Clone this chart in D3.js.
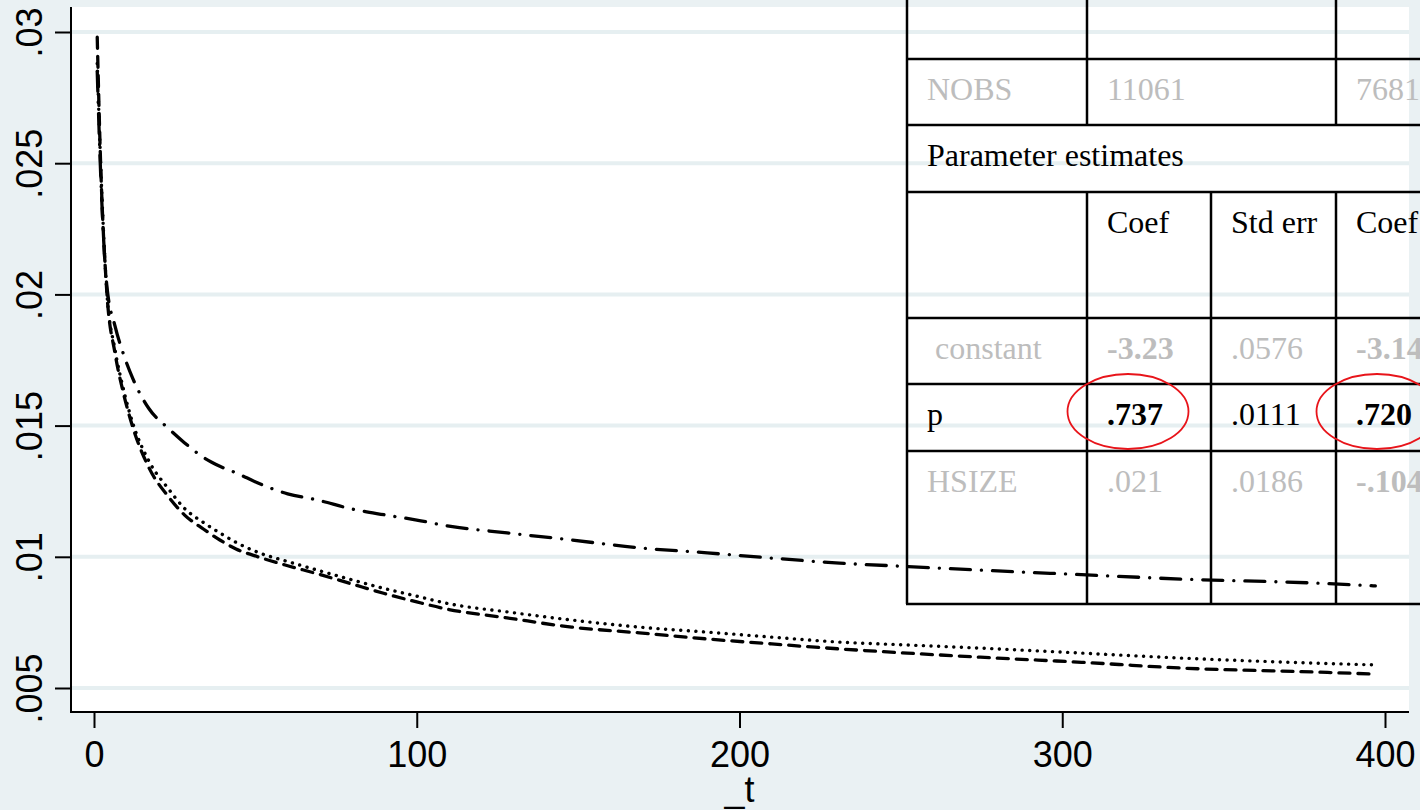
<!DOCTYPE html>
<html>
<head>
<meta charset="utf-8">
<script src="https://cdn.jsdelivr.net/npm/d3@7"></script>
<style>
  html, body { margin: 0; padding: 0; background: #eaf1f3; overflow: hidden; }
  svg { display: block; }
</style>
</head>
<body>
<svg id="chart" width="1420" height="810"></svg>
<script>
// ---------------- data ----------------
const tValues = [1, 2, 4, 6.5, 9, 12, 17, 23, 28, 34, 39, 44, 51, 60, 69, 80, 90, 100, 110, 128, 148, 169, 190, 210, 231, 252, 280, 306, 337, 378, 397];

const hazardDashed = [0.02980, 0.02520, 0.02005, 0.01777, 0.01630, 0.01495, 0.01340, 0.01230, 0.01160, 0.01105, 0.01064, 0.01030, 0.00999, 0.00966, 0.00936, 0.00896, 0.00860, 0.00828, 0.00799, 0.00767, 0.00732, 0.00710, 0.00687, 0.00668, 0.00649, 0.00633, 0.00614, 0.00598, 0.00576, 0.00561, 0.00553];

const hazardDotted = [0.02880, 0.02520, 0.02005, 0.01790, 0.01645, 0.01510, 0.01365, 0.01260, 0.01185, 0.01130, 0.01091, 0.01055, 0.01016, 0.00982, 0.00950, 0.00912, 0.00879, 0.00850, 0.00821, 0.00790, 0.00759, 0.00732, 0.00713, 0.00694, 0.00675, 0.00664, 0.00649, 0.00633, 0.00614, 0.00595, 0.00588];

const hazardDashDot = [0.02850, 0.02480, 0.02030, 0.01880, 0.01777, 0.01680, 0.01565, 0.01490, 0.01435, 0.01378, 0.01345, 0.01320, 0.01280, 0.01240, 0.01217, 0.01182, 0.01160, 0.01140, 0.01117, 0.01091, 0.01064, 0.01034, 0.01015, 0.00995, 0.00976, 0.00963, 0.00946, 0.00932, 0.00915, 0.00900, 0.00889];

const yTicks = [0.005, 0.01, 0.015, 0.02, 0.025, 0.03];
const yTickLabels = [".005", ".01", ".015", ".02", ".025", ".03"];
const xTicks = [0, 100, 200, 300, 400];
const xTickLabels = ["0", "100", "200", "300", "400"];
const xTitle = "_t";

// table content
const tableRowLabels = ["", "NOBS", "Parameter estimates", "", " constant", "p", "HSIZE"];
const tableCol1 = ["", "11061", "", "Coef", "-3.23", ".737", ".021"];
const tableCol2 = ["", "", "", "Std err", ".0576", ".0111", ".0186"];
const tableCol3 = ["", "7681", "", "Coef", "-3.14", ".720", "-.104"];
const tableRowMuted = [false, true, false, false, true, false, true];
const boldCells = ["-3.23", ".737", "-3.14", ".720", "-.104"];
const circledCells = [[5, 1], [5, 3]];

// ---------------- layout ----------------
const W = 1420, H = 810;
const plot = { left: 72, right: 1409, top: 7, bottom: 711 };
const bg = "#eaf1f3";
const gridColor = "#e6eff1";

const svg = d3.select("#chart");

const x = d3.scaleLinear().domain([0, 400]).range([94, 1385]);
const y = d3.scaleLinear().domain([0.005, 0.03]).range([688, 32]);

svg.append("rect").attr("x", 0).attr("y", 0).attr("width", W).attr("height", H).attr("fill", bg);
svg.append("rect")
  .attr("x", plot.left).attr("y", plot.top)
  .attr("width", plot.right - plot.left).attr("height", plot.bottom - plot.top)
  .attr("fill", "#ffffff");

// gridlines
svg.append("g").selectAll("line").data(yTicks).join("line")
  .attr("x1", plot.left).attr("x2", plot.right)
  .attr("y1", d => y(d)).attr("y2", d => y(d))
  .attr("stroke", gridColor).attr("stroke-width", 4);

// lines
const makeLine = vals => d3.line()
  .x((d, i) => x(tValues[i]))
  .y(d => y(d))
  .curve(d3.curveMonotoneX)(vals);

const seriesStyles = [
  { vals: hazardDotted, dash: "0.1,7.5", width: 3.4 },
  { vals: hazardDashed, dash: "11,8", width: 3.3 },
  { vals: hazardDashDot, dash: "20,11,0.1,11", width: 3.3 }
];
svg.append("g").selectAll("path").data(seriesStyles).join("path")
  .attr("d", d => makeLine(d.vals))
  .attr("fill", "none")
  .attr("stroke", "#000")
  .attr("stroke-width", d => d.width)
  .attr("stroke-linecap", "round")
  .attr("stroke-linejoin", "round")
  .attr("stroke-dasharray", d => d.dash);

// axes
const yAxis = d3.axisLeft(y).tickValues(yTicks).tickFormat((d, i) => yTickLabels[i]).tickSize(16);
const gy = svg.append("g").attr("transform", `translate(${plot.left - 1},0)`).call(yAxis);
gy.select(".domain").remove();
gy.selectAll(".tick line").attr("stroke", "#000").attr("stroke-width", 2);
gy.selectAll(".tick text")
  .attr("transform", "rotate(-90)")
  .attr("x", 0).attr("y", -29)
  .attr("dy", 0)
  .attr("text-anchor", "middle")
  .style("font-family", "'Liberation Sans', Arial, sans-serif")
  .style("font-size", "36px")
  .attr("fill", "#000");

const xAxis = d3.axisBottom(x).tickValues(xTicks).tickFormat((d, i) => xTickLabels[i]).tickSize(16);
const gx = svg.append("g").attr("transform", `translate(0,${plot.bottom + 1})`).call(xAxis);
gx.select(".domain").remove();
gx.selectAll(".tick line").attr("stroke", "#000").attr("stroke-width", 2);
gx.selectAll(".tick text")
  .attr("y", 55).attr("dy", 0)
  .style("font-family", "'Liberation Sans', Arial, sans-serif")
  .style("font-size", "36px")
  .attr("fill", "#000");

svg.append("line").attr("x1", plot.left - 1).attr("x2", plot.left - 1)
  .attr("y1", plot.top).attr("y2", plot.bottom + 2).attr("stroke", "#000").attr("stroke-width", 2);
svg.append("line").attr("x1", plot.left - 2).attr("x2", plot.right)
  .attr("y1", plot.bottom + 1).attr("y2", plot.bottom + 1).attr("stroke", "#000").attr("stroke-width", 2);

svg.append("text").attr("x", x(200)).attr("y", 802)
  .attr("text-anchor", "middle")
  .style("font-family", "'Liberation Sans', Arial, sans-serif")
  .style("font-size", "36px")
  .text(xTitle);

// ---------------- table overlay ----------------
const colEdges = [907, 1087, 1211, 1336];
const rowEdges = [-10, 59, 125, 192, 318, 384, 451, 604];
const tableRight = 1425;
const tg = svg.append("g");

tg.selectAll("line.h").data(rowEdges.slice(1)).join("line").attr("class", "h")
  .attr("x1", colEdges[0] - 1).attr("x2", tableRight)
  .attr("y1", d => d).attr("y2", d => d)
  .attr("stroke", "#000").attr("stroke-width", 2.5);

const rowVerticals = [[0, 1, 3], [0, 1, 3], [0], [0, 1, 2, 3], [0, 1, 2, 3], [0, 1, 2, 3], [0, 1, 2, 3]];
rowVerticals.forEach((cols, r) => {
  cols.forEach(c => {
    tg.append("line")
      .attr("x1", colEdges[c]).attr("x2", colEdges[c])
      .attr("y1", rowEdges[r]).attr("y2", rowEdges[r + 1])
      .attr("stroke", "#000").attr("stroke-width", 2.5);
  });
});

const cellFont = "'Liberation Serif', 'Times New Roman', serif";
const columns = [tableRowLabels, tableCol1, tableCol2, tableCol3];
columns.forEach((col, c) => {
  col.forEach((txt, r) => {
    if (!txt) return;
    tg.append("text")
      .attr("x", colEdges[c] + 20)
      .attr("y", rowEdges[r] + 41)
      .attr("xml:space", "preserve")
      .style("white-space", "pre")
      .style("font-family", cellFont)
      .style("font-size", "32px")
      .style("font-weight", boldCells.includes(txt) ? "bold" : "normal")
      .attr("fill", tableRowMuted[r] ? "#bdbdbd" : "#000")
      .text(txt);
  });
});

tg.selectAll("ellipse").data(circledCells).join("ellipse")
  .attr("cx", d => colEdges[d[1]] + 41)
  .attr("cy", d => (rowEdges[d[0]] + rowEdges[d[0] + 1]) / 2 - 6)
  .attr("rx", 60.5).attr("ry", 37.5)
  .attr("fill", "none").attr("stroke", "#e8141a").attr("stroke-width", 1.8);
</script>
</body>
</html>
